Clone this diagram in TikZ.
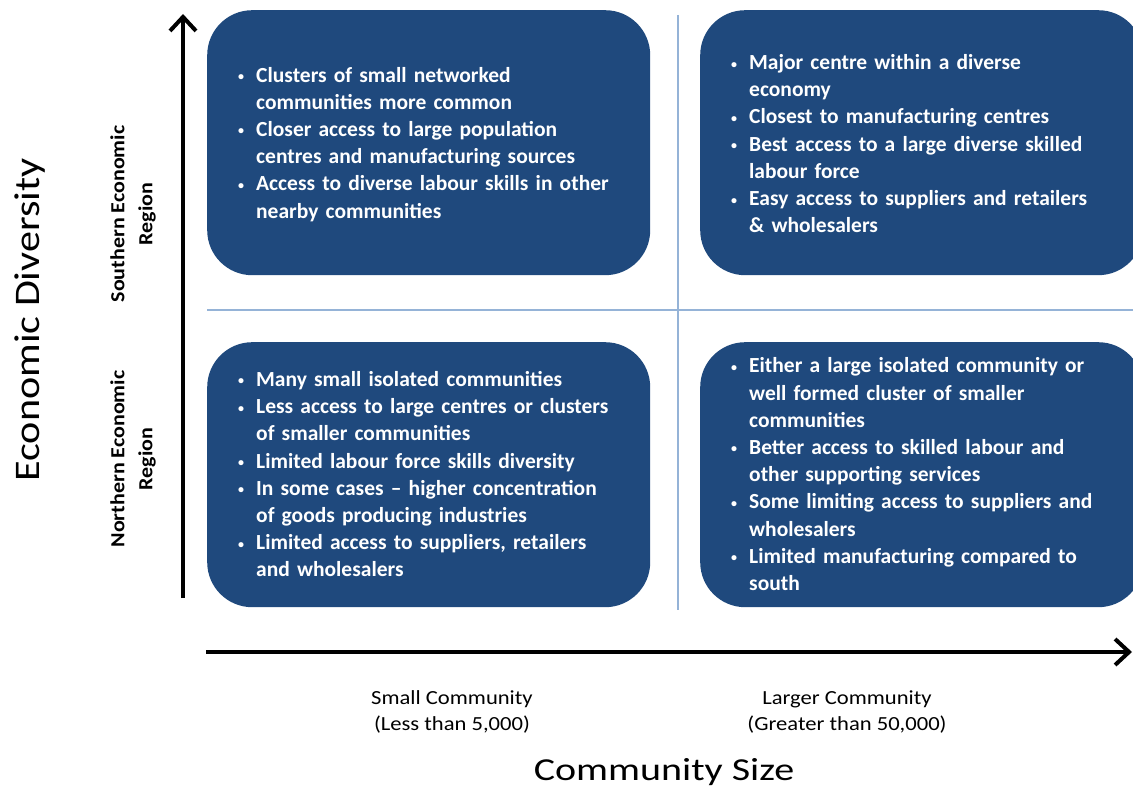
\documentclass[tikz,border=0pt]{standalone}
\usepackage{fontspec}
\setmainfont{Carlito}
\usepackage{xcolor}
\usepackage{tikz}
\usetikzlibrary{arrows.meta, positioning}
\definecolor{boxblue}{RGB}{31,73,125}
\definecolor{splitblue}{RGB}{149,179,215}
\newcommand{\bpoint}[1]{\hangindent=21pt\hangafter=1\noindent
  \makebox[21pt][l]{\hspace{3pt}\raisebox{1.5pt}{\fontsize{12}{12}\selectfont\textbullet}}#1\par}

\begin{document}
\begin{tikzpicture}[x=1pt, y=-1pt,
    quadrant/.style={fill=boxblue, rounded corners=45pt, minimum width=443pt, minimum height=265pt,
      text width=387pt, inner xsep=28pt, align=left, text=white, anchor=north west,
      font=\bfseries\fontsize{21.5}{27.2}\selectfont},
    axis/.style={line width=4.5pt, -{Straight Barb[length=14pt, width=26pt, line width=4pt]}},
    split/.style={draw=splitblue, line width=1.6pt},
    region/.style={rotate=90, align=center, font=\bfseries\fontsize{20}{28}\selectfont},
    sizelabel/.style={align=center, font=\fontsize{20}{26}\selectfont}]
  \clip (0,0) rectangle (1133,789);

  % dividers
  \coordinate (hleft) at (207,310);
  \coordinate (hright) at (1140,310);
  \coordinate (vtop) at (678,15);
  \coordinate (vbottom) at (678,610);
  \draw[split] (hleft) -- (hright);
  \draw[split] (vtop) -- (vbottom);

  % the four quadrants
  \node[quadrant] (southsmall) at (207,10) {%
    \bpoint{Clusters of small networked\newline communities more common}
    \bpoint{Closer access to large population\newline centres and manufacturing sources}
    \bpoint{Access to diverse labour skills in other\newline nearby communities}
    \vspace{-3pt}};
  \node[quadrant] (southlarge) at (700,10) {%
    \bpoint{Major centre within a diverse\newline economy}
    \bpoint{Closest to manufacturing centres}
    \bpoint{Best access to a large diverse skilled\newline labour force}
    \bpoint{Easy access to suppliers and retailers\newline \& wholesalers}
    \vspace{-2pt}};
  \node[quadrant] (northsmall) at (207,342) {%
    \bpoint{Many small isolated communities}
    \bpoint{Less access to large centres or clusters\newline of smaller communities}
    \bpoint{Limited labour force skills diversity}
    \bpoint{In some cases -- higher concentration\newline of goods producing industries}
    \bpoint{Limited access to suppliers, retailers\newline and wholesalers}
    \vspace{1pt}};
  \node[quadrant] (northlarge) at (700,342) {%
    \bpoint{Either a large isolated community or\newline well formed cluster of smaller\newline communities}
    \bpoint{Better access to skilled labour and\newline other supporting services}
    \bpoint{Some limiting access to suppliers and\newline wholesalers}
    \bpoint{Limited manufacturing compared to\newline south}
    \vspace{1pt}};

  % axes
  \coordinate (yfoot) at (183,598);
  \coordinate (ytip) at (183,14);
  \coordinate (xfoot) at (206,652);
  \coordinate (xtip) at (1132,652);
  \draw[axis] (yfoot) -- (ytip);
  \draw[axis] (xfoot) -- (xtip);

  % labels
  \node[rotate=90, anchor=base, font=\fontsize{36}{44}\selectfont] (ylabel) at (39,320)
    {\scalebox{1.17}[1]{Economic Diversity}};
  \node[anchor=base, font=\fontsize{32}{40}\selectfont] (xlabel) at (664,780)
    {\scalebox{1.25}[1]{Community Size}};
  \node[region] (south) at (133,214) {\scalebox{1.1}[1]{Southern Economic}\\\scalebox{1.1}[1]{Region}};
  \node[region] (north) at (133,459) {\scalebox{1.1}[1]{Northern Economic}\\\scalebox{1.1}[1]{Region}};
  \node[sizelabel] (small) at (452,712) {\scalebox{1.13}[1]{Small Community}\\\scalebox{1.13}[1]{(Less than 5,000)}};
  \node[sizelabel] (large) at (847,712) {\scalebox{1.13}[1]{Larger Community}\\\scalebox{1.13}[1]{(Greater than 50,000)}};
\end{tikzpicture}
\end{document}
